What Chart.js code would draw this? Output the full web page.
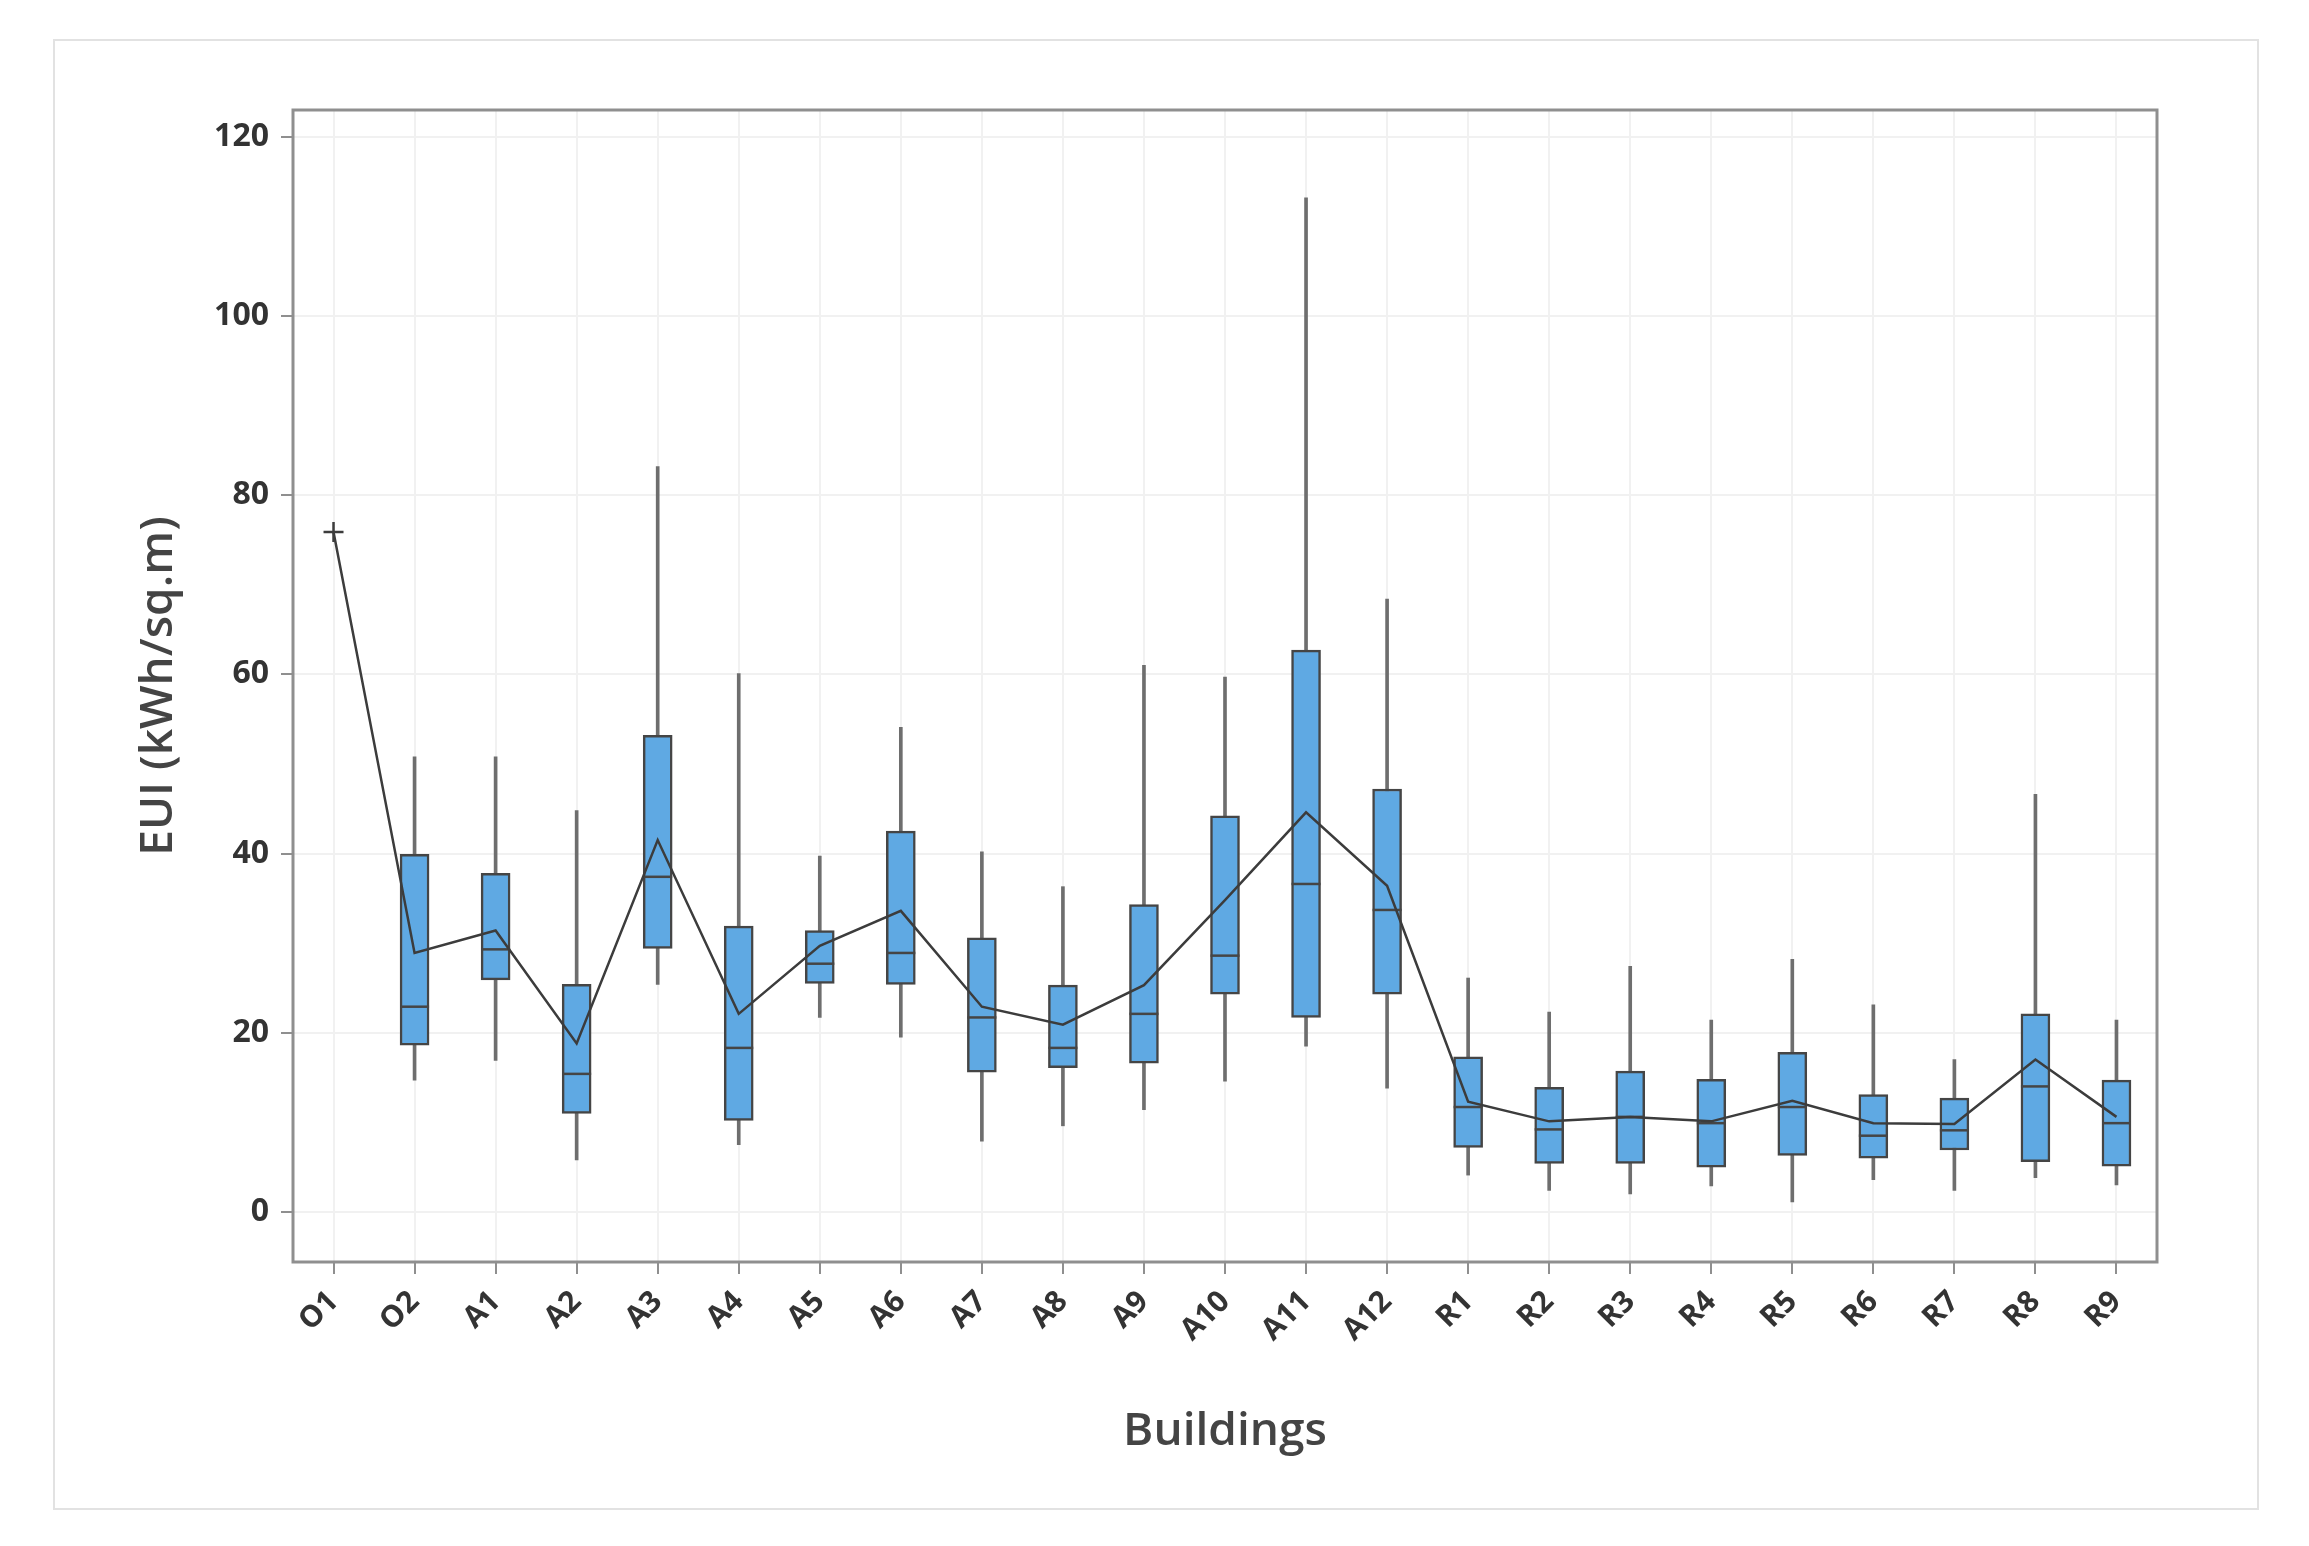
<!DOCTYPE html>
<html>
<head>
<meta charset="utf-8">
<title>EUI by building</title>
<script src="https://cdn.jsdelivr.net/npm/chart.js@4.4.1/dist/chart.umd.min.js"></script>
<style>
    body { margin: 0; background: #fff; }
    #wrap { position: relative; width: 2309px; height: 1546px; }
    #panel {
        position: absolute; left: 53px; top: 39px;
        width: 2202px; height: 1467px;
        border: 2px solid #e2e2e2;
    }
    #chart { position: absolute; left: 0; top: 0; }
</style>
</head>
<body>
<div id="wrap">
    <div id="panel"></div>
    <canvas id="chart" width="2309" height="1546"></canvas>
</div>
<script>
// buildings on the x axis
const buildings = ['O1', 'O2', 'A1', 'A2', 'A3', 'A4', 'A5', 'A6', 'A7', 'A8', 'A9', 'A10', 'A11', 'A12',
    'R1', 'R2', 'R3', 'R4', 'R5', 'R6', 'R7', 'R8', 'R9'];

// box plot stats (O1 has a single value, no box)
const whiskerLow  = [null, 14.7, 16.9,  5.8, 25.4,  7.5, 21.7, 19.5,  7.9,  9.6, 11.4, 14.6,  18.5, 13.8,  4.1,  2.4,  2.0,  2.9,  1.1,  3.6,  2.4,  3.8,  3.0];
const q1          = [null, 18.6, 25.9, 11.0, 29.4, 10.2, 25.5, 25.4, 15.6, 16.1, 16.6, 24.3,  21.7, 24.3,  7.2,  5.4,  5.4,  5.0,  6.3,  6.0,  6.9,  5.6,  5.1];
const medians     = [null, 22.9, 29.3, 15.4, 37.4, 18.3, 27.7, 28.9, 21.7, 18.3, 22.1, 28.6,  36.6, 33.7, 11.7,  9.2, 10.6,  9.9, 11.7,  8.5,  9.1, 14.0,  9.9];
const q3          = [null, 39.9, 37.8, 25.4, 53.2, 31.9, 31.4, 42.5, 30.6, 25.3, 34.3, 44.2,  62.7, 47.2, 17.3, 13.9, 15.7, 14.8, 17.8, 13.1, 12.7, 22.1, 14.7];
const whiskerHigh = [null, 50.8, 50.8, 44.8, 83.2, 60.1, 39.7, 54.1, 40.2, 36.3, 61.0, 59.7, 113.2, 68.4, 26.1, 22.3, 27.4, 21.4, 28.2, 23.1, 17.0, 46.6, 21.4];
const means       = [75.9, 28.9, 31.4, 18.8, 41.5, 22.1, 29.7, 33.6, 22.9, 20.9, 25.3, 34.8, 44.6, 36.4, 12.3, 10.1, 10.6, 10.1, 12.4,  9.9,  9.8, 17.0, 10.6];

// y axis ticks
const yTicks = [0, 20, 40, 60, 80, 100, 120];

const boxColor = '#5fa9e3';
const edgeColor = '#454545';
const frameColor = '#8f8f8f';
const textColor = '#333333';

const whiskerData = buildings.map((b, i) => whiskerLow[i] == null ? null : [whiskerLow[i], whiskerHigh[i]]);
const boxData = buildings.map((b, i) => q1[i] == null ? null : [q1[i], q3[i]]);

// frame round the whole plot area
const framePlugin = {
    id: 'frame',
    afterDatasetsDraw(chart) {
        const { ctx, chartArea } = chart;
        ctx.save();
        ctx.strokeStyle = frameColor;
        ctx.lineWidth = 3;
        ctx.strokeRect(chartArea.left, chartArea.top, chartArea.right - chartArea.left, chartArea.bottom - chartArea.top);
        ctx.restore();
    }
};

const ctx = document.getElementById('chart').getContext('2d');
new Chart(ctx, {
    type: 'bar',
    data: {
        labels: buildings,
        datasets: [
            {
                label: 'Whiskers',
                data: whiskerData,
                backgroundColor: '#6e6e6e',
                borderWidth: 0,
                barThickness: 3,
                grouped: false,
                order: 4,
            },
            {
                label: 'IQR box',
                data: boxData,
                backgroundColor: boxColor,
                borderColor: edgeColor,
                borderWidth: 2.5,
                borderSkipped: false,
                barThickness: 29,
                grouped: false,
                order: 3,
            },
            {
                type: 'line',
                label: 'Median',
                data: medians,
                showLine: false,
                pointStyle: 'line',
                pointRadius: 14.5,
                pointHoverRadius: 14.5,
                pointBorderWidth: 2.5,
                pointBorderColor: edgeColor,
                order: 2,
            },
            {
                type: 'line',
                label: 'Mean',
                data: means,
                borderColor: '#3c3c3c',
                borderWidth: 2.5,
                tension: 0,
                pointStyle: 'cross',
                pointRadius: means.map((m, i) => i === 0 ? 10 : 0),
                pointBorderWidth: 2.5,
                pointBorderColor: '#3c3c3c',
                order: 1,
            },
        ],
    },
    options: {
        responsive: false,
        animation: false,
        layout: { padding: { left: 0, top: 110, right: 152, bottom: 0 } },
        plugins: {
            legend: { display: false },
            tooltip: { enabled: false },
        },
        scales: {
            x: {
                offset: true,
                grid: {
                    offset: false,
                    color: '#f1f1f1',
                    lineWidth: 2,
                    tickColor: frameColor,
                    tickLength: 12,
                    tickWidth: 2,
                },
                border: { display: false },
                ticks: {
                    minRotation: 45,
                    maxRotation: 45,
                    padding: 10,
                    color: textColor,
                    font: { family: 'Open Sans', size: 30, weight: '700' },
                },
                title: {
                    display: true,
                    text: 'Buildings',
                    color: '#444',
                    padding: { top: 0, bottom: 87 },
                    font: { family: 'Open Sans', size: 46, weight: '600' },
                },
                afterFit(scale) { scale.height = 284; },
            },
            y: {
                min: -5.6,
                max: 123,
                grid: {
                    color: '#f1f1f1',
                    lineWidth: 2,
                    tickColor: frameColor,
                    tickLength: 12,
                    tickWidth: 2,
                },
                border: { display: false },
                afterBuildTicks(scale) {
                    scale.ticks = yTicks.map((v) => ({ value: v }));
                },
                ticks: {
                    padding: 12,
                    color: textColor,
                    font: { family: 'Open Sans', size: 32, weight: '700' },
                },
                title: {
                    display: true,
                    text: 'EUI (kWh/sq.m)',
                    color: '#444',
                    padding: { top: 131, bottom: 0 },
                    font: { family: 'Open Sans', size: 46, weight: '600' },
                },
                afterFit(scale) { scale.width = 293; },
            },
        },
    },
    plugins: [framePlugin],
});
</script>
</body>
</html>
